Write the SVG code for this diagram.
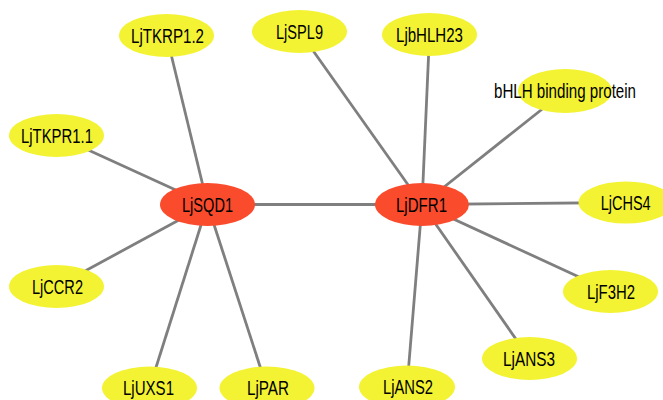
<svg xmlns="http://www.w3.org/2000/svg" width="663" height="400" viewBox="0 0 663 400">
<style>
.e{stroke:#7f7f7f;stroke-width:2.8;fill:none}
.hub{fill:#fa4b2d}
.leaf{fill:#f3f333}
text{font-family:"Liberation Sans",Arial,sans-serif;font-size:19.5px;fill:#000;text-anchor:middle}
</style>
<rect width="663" height="400" fill="#fff"/>
<g id="edges">
<line class="e" x1="207.5" y1="204.5" x2="422" y2="204.5"/>
<line class="e" x1="207.5" y1="204.5" x2="166.5" y2="35.5"/>
<line class="e" x1="207.5" y1="204.5" x2="56.5" y2="135.5"/>
<line class="e" x1="207.5" y1="204.5" x2="56.5" y2="286.5"/>
<line class="e" x1="207.5" y1="204.5" x2="149.5" y2="388"/>
<line class="e" x1="207.5" y1="204.5" x2="267" y2="388"/>
<line class="e" x1="422" y1="204.5" x2="299.5" y2="31.5"/>
<line class="e" x1="422" y1="204.5" x2="429.5" y2="34.5"/>
<line class="e" x1="422" y1="204.5" x2="565" y2="91"/>
<line class="e" x1="422" y1="204.5" x2="626" y2="202.5"/>
<line class="e" x1="422" y1="204.5" x2="610.5" y2="291.5"/>
<line class="e" x1="422" y1="204.5" x2="529.5" y2="358.5"/>
<line class="e" x1="422" y1="204.5" x2="407" y2="387"/>
</g>
<g id="LjTKRP1.2"><ellipse class="leaf" cx="166.5" cy="35.5" rx="47.5" ry="21.5"/><text x="167.5" y="42.5" textLength="73" lengthAdjust="spacingAndGlyphs">LjTKRP1.2</text></g>
<g id="LjSPL9"><ellipse class="leaf" cx="299.5" cy="31.5" rx="47.5" ry="21.5"/><text x="299.5" y="38.5" textLength="47" lengthAdjust="spacingAndGlyphs">LjSPL9</text></g>
<g id="LjTKPR1.1"><ellipse class="leaf" cx="56.5" cy="135.5" rx="47.5" ry="21.5"/><text x="57" y="142.5" textLength="72" lengthAdjust="spacingAndGlyphs">LjTKPR1.1</text></g>
<g id="LjbHLH23"><ellipse class="leaf" cx="429.5" cy="34.5" rx="47.5" ry="21.5"/><text x="429.5" y="41.5" textLength="67" lengthAdjust="spacingAndGlyphs">LjbHLH23</text></g>
<g id="bHLH_binding_protein"><ellipse class="leaf" cx="565" cy="91" rx="47" ry="22"/><text x="565" y="98" textLength="142" lengthAdjust="spacingAndGlyphs">bHLH binding protein</text></g>
<g id="LjSQD1"><ellipse class="hub" cx="207.5" cy="204.5" rx="47.5" ry="21.5"/><text x="207.5" y="211.5" textLength="51" lengthAdjust="spacingAndGlyphs">LjSQD1</text></g>
<g id="LjDFR1"><ellipse class="hub" cx="422" cy="204.5" rx="47" ry="21.5"/><text x="421.5" y="211.5" textLength="51" lengthAdjust="spacingAndGlyphs">LjDFR1</text></g>
<g id="LjCHS4"><ellipse class="leaf" cx="626" cy="202.5" rx="47.5" ry="21"/><text x="625.7" y="209.5" textLength="50" lengthAdjust="spacingAndGlyphs">LjCHS4</text></g>
<g id="LjCCR2"><ellipse class="leaf" cx="56.5" cy="286.5" rx="47.5" ry="21.5"/><text x="57.5" y="293.5" textLength="51" lengthAdjust="spacingAndGlyphs">LjCCR2</text></g>
<g id="LjF3H2"><ellipse class="leaf" cx="610.5" cy="291.5" rx="47.5" ry="21.5"/><text x="611" y="298.5" textLength="48" lengthAdjust="spacingAndGlyphs">LjF3H2</text></g>
<g id="LjANS3"><ellipse class="leaf" cx="529.5" cy="358.5" rx="47.5" ry="21.5"/><text x="529" y="365.5" textLength="52" lengthAdjust="spacingAndGlyphs">LjANS3</text></g>
<g id="LjUXS1"><ellipse class="leaf" cx="149.5" cy="388" rx="47.5" ry="21.5"/><text x="148.5" y="395" textLength="51" lengthAdjust="spacingAndGlyphs">LjUXS1</text></g>
<g id="LjPAR"><ellipse class="leaf" cx="267" cy="388" rx="47.5" ry="21.5"/><text x="268" y="395" textLength="42" lengthAdjust="spacingAndGlyphs">LjPAR</text></g>
<g id="LjANS2"><ellipse class="leaf" cx="407" cy="387" rx="48" ry="21.5"/><text x="408" y="394" textLength="50" lengthAdjust="spacingAndGlyphs">LjANS2</text></g>
</svg>
